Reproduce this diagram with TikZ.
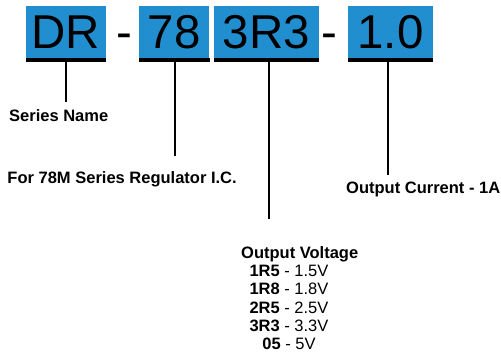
\documentclass[tikz,border=0pt]{standalone}
\usepackage{fontspec}
\setmainfont{Liberation Sans}
\usepackage{xcolor}
\usepackage{tikz}
\usetikzlibrary{positioning,calc}
\definecolor{CodeBlue}{RGB}{33,143,207}
\tikzset{
  codebox/.style={fill=CodeBlue, inner sep=0pt, minimum height=52pt,
    text height=34pt, text depth=0pt, font=\fontsize{47.5}{50}\selectfont},
  codedash/.style={inner sep=0pt, text height=34pt, text depth=0pt,
    font=\fontsize{47.5}{50}\selectfont},
  fieldname/.style={anchor=base west, inner sep=0pt, text height=12pt,
    text depth=3.5pt, font=\fontsize{16.5}{18.4}\selectfont\bfseries},
  leadline/.style={line width=2.2pt},
}

\begin{document}
\begin{tikzpicture}[x=1pt,y=1pt]
      \useasboundingbox (0,0) rectangle (501,-356);
      % part number fields
      \node[codebox, minimum width=79.5pt] (dr) at (65.75,-31.5) {DR};
      \node[codedash] (dash1) at (124,-31.5) {-};
      \node[codebox, minimum width=70pt] (ic) at (174.3,-31.5) {78};
      \node[codebox, minimum width=105pt] (volt) at (266.5,-31.5) {3R3};
      \node[codedash] (dash2) at (329,-31.5) {-};
      \node[codebox, minimum width=84.5pt] (amp) at (390.5,-31.5) {1.0};
      \foreach \n in {dr,ic,volt,amp}
        \fill (\n.south west) rectangle ([yshift=-4.5pt]\n.south east);
      % field names
      \node[fieldname] (series) at (9,-121.7) {Series Name};
      \node[fieldname] (regic) at (7.3,-183.5) {For 78M Series Regulator I.C.};
      \node[fieldname] (current) at (346,-193.5) {Output Current - 1A};
      \node[fieldname] (voltage) at (241,-258.3) {Output Voltage};
      \node[anchor=north, inner sep=0pt, align=center,
            font=\fontsize{16.5}{18.4}\selectfont]
        (vlist) at (289,-264.7)
        {\textbf{1R5} - 1.5V\\
         \textbf{1R8} - 1.8V\\
         \textbf{2R5} - 2.5V\\
         \textbf{3R3} - 3.3V\\
         \textbf{05} - 5V};
      % leader lines
      \coordinate (drlead) at ([yshift=-4.5pt]dr.south);
      \coordinate (iclead) at ([xshift=0.7pt,yshift=-4.5pt]ic.south);
      \coordinate (voltlead) at ([xshift=2.8pt,yshift=-4.5pt]volt.south);
      \coordinate (amplead) at ([xshift=-2.5pt,yshift=-4.5pt]amp.south);
      \draw[leadline, shorten >=7.4pt] (drlead) -- (drlead |- series.north);
      \draw[leadline, shorten >=15.5pt] (iclead) -- (iclead |- regic.north);
      \draw[leadline, shorten >=27.3pt] (voltlead) -- (voltlead |- voltage.north);
      \draw[leadline, shorten >=6.5pt] (amplead) -- (amplead |- current.north);
    \end{tikzpicture}
\end{document}
